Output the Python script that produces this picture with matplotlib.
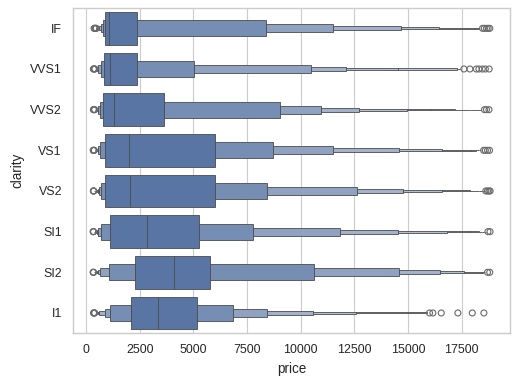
import colorsys
import numpy as np
import matplotlib
matplotlib.use("Agg")
import matplotlib.pyplot as plt

# ---------------- data ----------------
clarity = ["IF", "VVS1", "VVS2", "VS1", "VS2", "SI1", "SI2", "I1"]

# letter values (ascending): lower tail ... Q1, Q3 ... upper tail
IF_vals = [480, 520, 560, 620, 691, 784, 895,
           2388, 8360, 11500, 14677, 16432, 17740, 18285]
VVS1_vals = [440, 455, 470, 490, 520, 565, 677, 816,
             2379, 5046, 10459, 12092, 14519, 17300, 17400, 17450]
VVS2_vals = [420, 440, 460, 480, 500, 530, 565, 644, 794,
             3638, 9012, 10925, 12699, 14939, 16078, 17200, 17900, 18412]
VS1_vals = [400, 420, 445, 470, 500, 530, 565, 644, 876,
            6023, 8686, 11505, 14583, 16572, 17945, 18150, 18300, 18412]
VS2_vals = [380, 400, 420, 445, 470, 500, 530, 597, 691, 900,
            6024, 8405, 12606, 14752, 16572, 17900, 18300, 18450, 18520, 18565]
SI1_vals = [370, 390, 410, 430, 450, 470, 500, 565, 691, 1089,
            5250, 7753, 11812, 14536, 16806, 17945, 18300, 18450, 18550, 18612]
SI2_vals = [375, 390, 410, 430, 460, 490, 530, 625, 1079, 2264,
            5777, 10600, 14566, 16479, 17599, 18450, 18500, 18530, 18550, 18570]
I1_vals = [470, 530, 610, 877, 1126, 2080,
           5161, 6820, 8423, 10553, 12561, 15890]

medians = [1080, 1093, 1311, 2005, 2054, 2822, 4072, 3344]

IF_fliers = [369, 400, 430, 455, 470, 18470, 18550, 18650, 18730, 18806]
VVS1_fliers = [336, 360, 390, 410, 17600, 17880, 18178, 18300, 18458, 18600, 18777]
VVS2_fliers = [336, 360, 380, 400, 18560, 18650, 18768]
VS1_fliers = [327, 345, 360, 380, 18520, 18600, 18700, 18795]
VS2_fliers = [334, 345, 357, 18620, 18700, 18767, 18823]
SI1_fliers = [326, 335, 345, 18720, 18818]
SI2_fliers = [326, 335, 345, 18700, 18804]
I1_fliers = [345, 360, 380, 400, 15998, 16153, 16545, 17320, 17991, 18531]

letter_values = [IF_vals, VVS1_vals, VVS2_vals, VS1_vals,
                 VS2_vals, SI1_vals, SI2_vals, I1_vals]
fliers = [IF_fliers, VVS1_fliers, VVS2_fliers, VS1_fliers,
          VS2_fliers, SI1_fliers, SI2_fliers, I1_fliers]

# ---------------- style ----------------
plt.rcParams["font.family"] = ["Liberation Sans", "DejaVu Sans"]
plt.rcParams["axes.edgecolor"] = "0.8"
plt.rcParams["axes.linewidth"] = 1.25
plt.rcParams["grid.color"] = "0.8"
plt.rcParams["grid.linewidth"] = 1.0
plt.rcParams["text.color"] = "0.15"
plt.rcParams["axes.labelcolor"] = "0.15"
plt.rcParams["xtick.color"] = "0.15"
plt.rcParams["ytick.color"] = "0.15"

# main colour: seaborn "b" (deep blue) desaturated by 0.75
base = (0.298, 0.447, 0.690)
h, l, s = colorsys.rgb_to_hls(*base)
main = np.array(colorsys.hls_to_rgb(h, l, s * 0.75))
light = np.array([0.925, 0.94, 0.965])
lum = l * 0.6
linecolor = (lum, lum, lum)
lw = 0.75

dpi = 81.1
fig = plt.figure(figsize=(519 / dpi, 385 / dpi), dpi=dpi)
ax = fig.add_axes([73.3 / 519, (385 - 333.3) / 385, (510 - 73.3) / 519, (333.3 - 8) / 385])

width = 0.8
for pos, (vals, med, fl) in enumerate(zip(letter_values, medians, fliers)):
    vals = np.asarray(vals, float)
    k = len(vals) // 2
    levels = np.concatenate([np.arange(0, k), np.arange(k - 2, -1, -1)])
    heights = width * 2.0 ** (levels - (k - 1))
    tvals = 2.0 ** ((levels + 1 - k) / 3.0)
    colors = [tuple(light + t * (main - light)) for t in tvals]
    ax.barh(np.full(len(levels), pos), np.diff(vals), left=vals[:-1],
            height=heights, color=colors, edgecolor=linecolor,
            linewidth=lw, zorder=2)
    ax.plot([med, med], [pos - width / 2, pos + width / 2],
            color=linecolor, linewidth=lw, zorder=3, solid_capstyle="butt")
    ax.scatter(fl, np.full(len(fl), pos), s=28, facecolor="none",
               edgecolor="0.42", linewidth=1.0, zorder=3)

allv = np.concatenate([np.concatenate(letter_values), np.concatenate(fliers)])
lo, hi = allv.min(), allv.max()
pad = 0.05 * (hi - lo)
ax.set_xlim(lo - pad, hi + pad)
ax.set_ylim(len(clarity) - 0.5, -0.5)
ax.set_yticks(range(len(clarity)))
ax.set_yticklabels(clarity)
ax.set_xticks([0, 2500, 5000, 7500, 10000, 12500, 15000, 17500])
ax.xaxis.grid(True, zorder=0)
ax.yaxis.grid(False)
ax.set_axisbelow(True)
ax.tick_params(axis="x", length=0, pad=9.2, labelsize=11)
ax.tick_params(axis="y", length=0, pad=10, labelsize=11)
ax.set_xlabel("price", fontsize=12, labelpad=5.5)
ax.set_ylabel("clarity", fontsize=12, labelpad=5)
for sp in ax.spines.values():
    sp.set_color("0.8")
    sp.set_linewidth(1.25)

fig.savefig("out.png", dpi=dpi)
